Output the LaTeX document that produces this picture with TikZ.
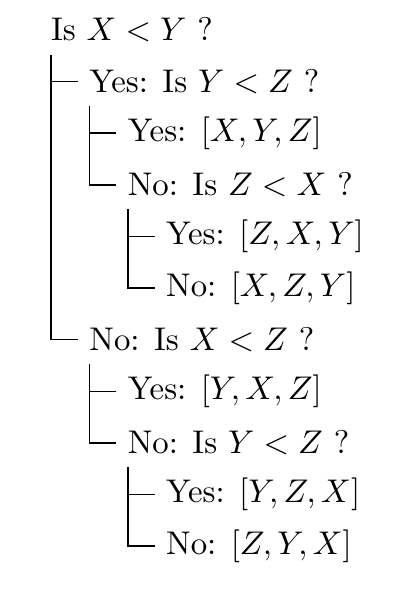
\documentclass[tikz,border=0pt]{standalone}
\usepackage{amssymb,amsmath}
\usepackage{tikz}
\usetikzlibrary{calc}

\begin{document}
\begin{tikzpicture}[font=\normalsize, line width=0.45pt, x=11.7pt, y=15.73pt]
      \tikzstyle{item}=[anchor=west,inner sep=3.33pt]
      \useasboundingbox (-12pt,9.15pt) rectangle (113pt,-170.7pt);

      % questions and answers, one per row
      \node[item](q0) at (0,0)   {Is $X<Y$ ?};
      \node[item](q1) at (1,-1)  {Yes: Is $Y<Z$ ?};
      \node[item](a1) at (2,-2)  {Yes: $[X,Y,Z]$};
      \node[item](q2) at (2,-3)  {No: Is $Z<X$ ?};
      \node[item](a2) at (3,-4)  {Yes: $[Z,X,Y]$};
      \node[item](a3) at (3,-5)  {No: $[X,Z,Y]$};
      \node[item](q3) at (1,-6)  {No: Is $X<Z$ ?};
      \node[item](a4) at (2,-7)  {Yes: $[Y,X,Z]$};
      \node[item](q4) at (2,-8)  {No: Is $Y<Z$ ?};
      \node[item](a5) at (3,-9)  {Yes: $[Y,Z,X]$};
      \node[item](a6) at (3,-10) {No: $[Z,Y,X]$};

      \foreach \p/\c in {q0/q1,q0/q3,q1/a1,q1/q2,q2/a2,q2/a3,q3/a4,q3/q4,q4/a5,q4/a6}
          \draw ($(\p.south west)+(3.6pt,-0.2pt)$) |- (\c.west);
    \end{tikzpicture}
\end{document}
